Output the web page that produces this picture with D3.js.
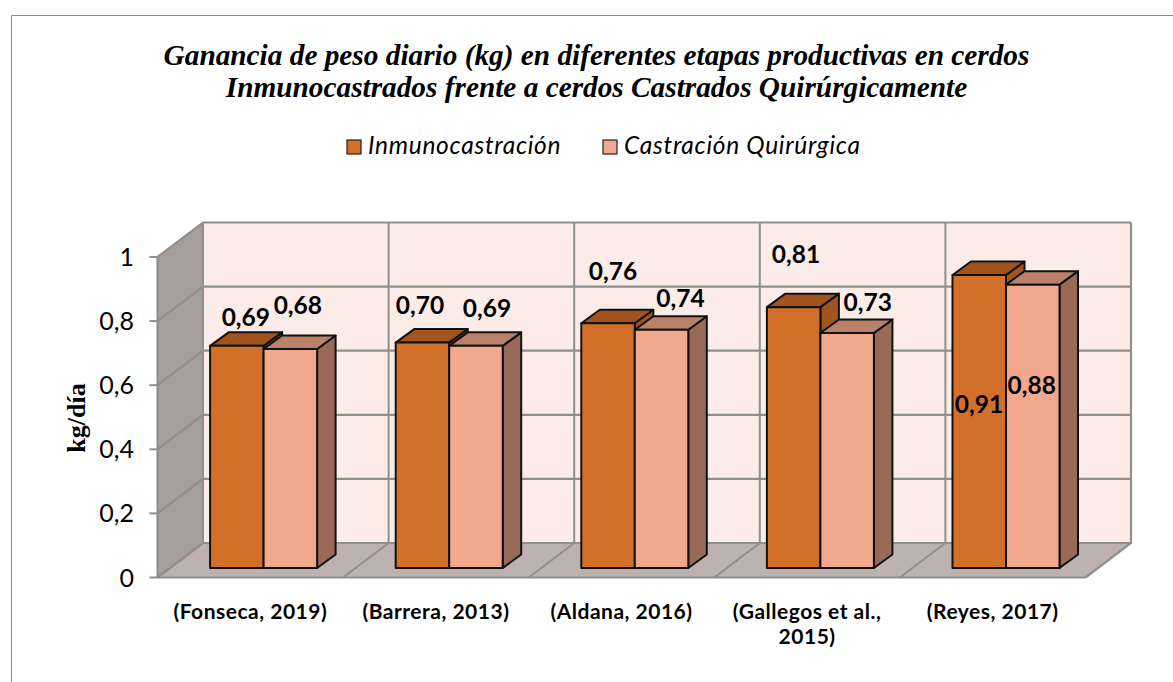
<!DOCTYPE html>
<html><head><meta charset="utf-8">
<script src="https://cdn.jsdelivr.net/npm/d3@7/dist/d3.min.js"></script>
<style>html,body{margin:0;padding:0;background:#fff}svg{display:block}</style></head>
<body><svg id="c" width="1173" height="682"></svg>
<script>
const categories = ["(Fonseca, 2019)", "(Barrera, 2013)", "(Aldana, 2016)", "(Gallegos et al., 2015)", "(Reyes, 2017)"];
const categoryLines = [["(Fonseca, 2019)"], ["(Barrera, 2013)"], ["(Aldana, 2016)"], ["(Gallegos et al.,", "2015)"], ["(Reyes, 2017)"]];
const inmuno = [0.69, 0.70, 0.76, 0.81, 0.91];
const quirur = [0.68, 0.69, 0.74, 0.73, 0.88];
const seriesNames = ["Inmunocastración", "Castración Quirúrgica"];
const yTicks = [0, 0.2, 0.4, 0.6, 0.8, 1];
const titleLines = ["Ganancia de peso diario (kg) en diferentes etapas productivas en cerdos", "Inmunocastrados frente a cerdos Castrados Quirúrgicamente"];
const fmt = v => String(v).replace(".", ",");
const fmt2 = v => v.toFixed(2).replace(".", ",");

const svg = d3.select("#c");
svg.append("path").attr("d","M11.5,682V15.5H1173").attr("fill","none").attr("stroke","#8c8c8c").attr("stroke-width",1);

svg.selectAll("text.t").data(titleLines).join("text").attr("class","t")
  .attr("x",596.5).attr("y",(d,i)=>65+i*32).attr("text-anchor","middle")
  .attr("font-family","'Liberation Serif'").attr("font-weight","bold").attr("font-style","italic")
  .attr("font-size",29.3).attr("fill","#000").text(d=>d);

// geometry
const DX=45.5, DY=-34.5;
const y = d3.scaleLinear().domain([0,1]).range([577.5,257]);
const x0=157.5, x1=1085.5;
const band = d3.scaleBand().domain(categories).range([x0,x1]);
const gray="#8f8f8f";
const line=d3.line();
const wt=y(1)+DY;
svg.append("rect").attr("x",x0+DX).attr("y",wt).attr("width",x1-x0).attr("height",y(0)-y(1)).attr("fill","#fbece8");
svg.append("path").attr("d",line([[x0,y(1)],[x0+DX,wt],[x0+DX,y(0)+DY],[x0,y(0)]])+"Z").attr("fill","#a69e99");
svg.append("path").attr("d",line([[x0,y(0)],[x0+DX,y(0)+DY],[x1+DX,y(0)+DY],[x1,y(0)]])+"Z").attr("fill","#bdb2af");
yTicks.forEach(t=>{
  svg.append("path").attr("fill","none").attr("stroke",gray).attr("stroke-width",2.2)
    .attr("d",line([[x0,y(t)],[x0+DX,y(t)+DY],[x1+DX,y(t)+DY]]));
});
categories.forEach(c=>{
  const bx=band(c);
  svg.append("path").attr("fill","none").attr("stroke",gray).attr("stroke-width",2)
   .attr("d",line([[bx,y(0)],[bx+DX,y(0)+DY],[bx+DX,y(1)+DY]]));
});
svg.append("path").attr("fill","none").attr("stroke",gray).attr("stroke-width",2.2)
   .attr("d",line([[x1,y(0)],[x1+DX,y(0)+DY],[x1+DX,y(1)+DY]]));
svg.append("path").attr("fill","none").attr("stroke",gray).attr("stroke-width",2.2)
   .attr("d",line([[x0,y(0)],[x1,y(0)]]));
svg.append("path").attr("fill","none").attr("stroke",gray).attr("stroke-width",2.2)
   .attr("d",line([[x0,y(0)],[x0,y(1)]]));
yTicks.forEach(t=>{
  svg.append("line").attr("x1",x0-8).attr("x2",x0).attr("y1",y(t)).attr("y2",y(t)).attr("stroke",gray).attr("stroke-width",2);
  svg.append("text").attr("x",134).attr("y",y(t)+9).attr("text-anchor","end")
    .attr("font-family","Lato").attr("font-size",25).attr("fill","#000").text(fmt(t));
});
svg.append("text").attr("transform","translate(85,418) rotate(-90)").attr("text-anchor","middle")
  .attr("font-family","'Liberation Serif'").attr("font-weight","bold").attr("font-size",26).text("kg/día");

// bars
const inner=d3.scaleBand().domain([0,1]).range([0,107]);
const bdx=18.5,bdy=-13.5;
const colors=[{f:"#d2702a",t:"#a1541e",s:"#a1541e"},{f:"#f2a88c",t:"#b9806a",s:"#9a6a58"}];
const yb=v=>568-322*(y(0)-y(v))/(y(0)-y(1));
const series=[inmuno,quirur];
const barShift=52.6;
const labelOffsets=[[[9,-28],[7.5,-43.5]],[[-2.5,-37],[11,-37.3]],[[5,-51.8],[19,-31.2]],[[2.3,-52.7],[20.6,-30.4]],[[-0.3,129.5],[-1,100.9]]];
categories.forEach((c,i)=>{
  const gx=band(c)+barShift;
  [0,1].forEach(s=>{
    const v=series[s][i], lx=gx+inner(s), w=inner.bandwidth(), top=yb(v), bot=yb(0);
    const g=svg.append("g").attr("stroke","#111").attr("stroke-width",2).attr("stroke-linejoin","round");
    g.append("path").attr("fill",colors[s].s).attr("d",line([[lx+w,top],[lx+w+bdx,top+bdy],[lx+w+bdx,bot+bdy],[lx+w,bot]])+"Z");
    g.append("path").attr("fill",colors[s].t).attr("d",line([[lx,top],[lx+bdx,top+bdy],[lx+w+bdx,top+bdy],[lx+w,top]])+"Z");
    g.append("rect").attr("x",lx).attr("y",top).attr("width",w).attr("height",bot-top).attr("fill",colors[s].f);
  });
});
categories.forEach((c,i)=>{[0,1].forEach(s=>{
  const v=series[s][i];
  const cx=band(c)+barShift+inner(s)+inner.bandwidth()/2;
  svg.append("text").attr("x",cx+labelOffsets[i][s][0]).attr("y",yb(v)+labelOffsets[i][s][1]+8.5).attr("text-anchor","middle")
   .attr("font-family","Lato").attr("font-weight","bold").attr("font-size",24.5).attr("fill","#000").text(fmt2(v));
});});
categoryLines.forEach((ls,i)=>{
  const cx=band(categories[i])+band.bandwidth()/2;
  ls.forEach((l,j)=>svg.append("text").attr("x",cx).attr("y",618.5+j*25).attr("text-anchor","middle")
   .attr("font-family","Lato").attr("font-weight","bold").attr("font-size",21).attr("letter-spacing",0.5).attr("fill","#000").text(l));
});
const lx=[346,602];
seriesNames.forEach((n,i)=>{
  svg.append("rect").attr("x",lx[i]+1).attr("y",140).attr("width",14).attr("height",14).attr("fill",colors[i].f).attr("stroke","#222").attr("stroke-width",1.2);
  svg.append("text").attr("x",lx[i]+22).attr("y",154).attr("font-family","Lato").attr("font-style","italic").attr("font-size",24.5).attr("letter-spacing",0.7).attr("fill","#000").text(n);
});
</script></body></html>
